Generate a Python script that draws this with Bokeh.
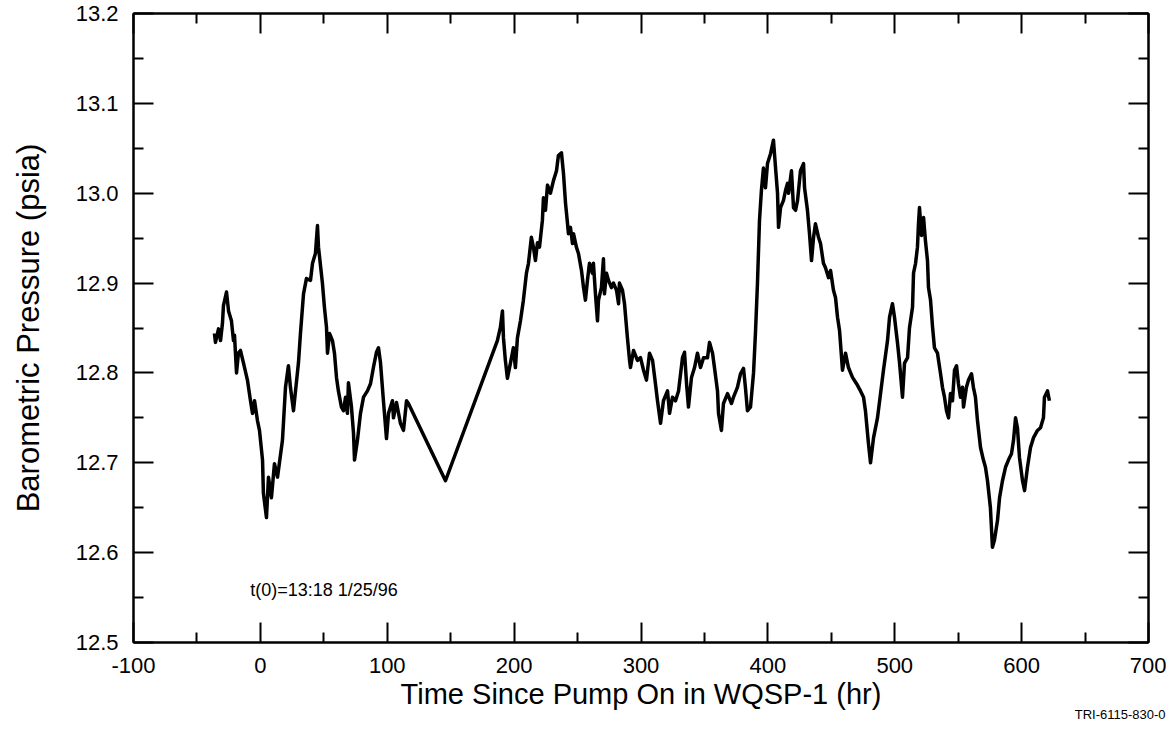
from bokeh.plotting import figure
from bokeh.models import Range1d, LinearAxis, FixedTicker, PrintfTickFormatter, CustomJSTickFormatter, Label, Title
from bokeh.embed import file_html
from bokeh.resources import INLINE

# Barometric pressure record, hours since pump on vs psia
hours = [
    -36.2, -35.4, -33.0, -31.4, -29.9, -29.1, -26.7, -25.1, -22.8, -21.2, -20.4, -18.8, -17.3, -15.7,
    -13.3, -10.2, -7.8, -6.2, -4.6, -2.3, -0.7, 1.7, 2.4, 4.8, 6.4, 8.7, 11.1, 13.5, 17.4, 19.8, 22.1,
    23.7, 26.1, 27.7, 30.0, 31.6, 34.0, 36.3, 39.5, 41.1, 43.4, 45.0, 45.8, 48.9, 50.5, 52.1, 52.9,
    54.5, 56.8, 58.4, 60.0, 61.5, 63.9, 65.5, 67.1, 68.6, 69.4, 71.8, 73.4, 74.2, 76.5, 78.9, 81.3,
    84.4, 86.8, 89.1, 91.5, 93.1, 94.7, 97.0, 99.4, 101.0, 104.1, 104.9, 107.3, 110.4, 112.8, 115.2,
    116.7, 145.9, 186.8, 189.2, 190.8, 191.6, 193.1, 194.7, 197.1, 199.4, 201.0, 202.6, 205.0, 207.3,
    209.7, 211.3, 213.6, 215.2, 216.8, 218.4, 220.0, 222.3, 223.1, 224.7, 226.3, 228.6, 231.0, 233.4,
    234.9, 237.3, 238.9, 240.5, 242.1, 242.8, 244.4, 246.0, 246.8, 249.1, 250.7, 253.1, 254.7, 256.2,
    257.8, 259.4, 261.7, 262.5, 264.1, 265.7, 266.5, 268.8, 270.4, 271.2, 272.8, 274.4, 276.7, 278.3,
    280.7, 282.3, 283.0, 285.4, 287.0, 289.3, 290.9, 291.7, 294.1, 297.2, 299.6, 302.0, 304.3, 306.7,
    309.1, 311.4, 313.0, 315.4, 317.7, 320.9, 322.5, 324.8, 327.2, 329.6, 332.7, 334.3, 335.9, 337.4,
    339.8, 342.2, 344.5, 346.9, 349.3, 352.4, 354.0, 356.4, 357.9, 360.3, 361.1, 363.4, 365.0, 368.2,
    371.3, 372.9, 376.0, 378.4, 380.8, 382.3, 383.9, 386.3, 388.7, 390.2, 391.8, 393.4, 394.9, 396.5,
    398.1, 399.7, 402.1, 404.4, 406.0, 407.6, 408.4, 410.0, 412.3, 413.9, 415.5, 416.3, 418.6, 420.2,
    421.8, 423.4, 425.7, 428.1, 428.9, 431.2, 432.8, 434.4, 436.0, 437.5, 439.9, 441.5, 443.8, 445.4,
    447.8, 449.4, 451.7, 453.3, 454.9, 456.5, 458.8, 461.2, 463.5, 466.7, 469.9, 473.0, 475.4, 476.9,
    479.3, 480.9, 483.3, 486.4, 488.8, 491.1, 494.3, 495.9, 498.2, 499.8, 502.2, 503.8, 506.1, 507.7,
    510.1, 511.6, 514.0, 514.8, 516.4, 517.9, 518.7, 519.5, 521.1, 522.7, 524.2, 525.8, 526.6, 528.2,
    529.8, 531.3, 533.7, 534.5, 536.1, 537.6, 539.2, 540.8, 542.4, 543.9, 545.5, 547.1, 548.7, 550.2,
    551.8, 553.4, 554.2, 556.5, 558.1, 560.5, 562.0, 563.6, 565.2, 567.6, 569.9, 571.5, 573.1, 575.4,
    577.0, 578.6, 581.0, 582.6, 584.9, 587.3, 589.6, 592.0, 593.6, 595.2, 596.7, 598.3, 600.7, 602.3,
    604.6, 607.0, 609.4, 612.5, 614.9, 617.2, 618.0, 620.4, 621.9,
]
psia = [
    12.844, 12.834, 12.849, 12.836, 12.855, 12.875, 12.890, 12.869, 12.858, 12.836, 12.842, 12.800, 12.822, 12.825,
    12.811, 12.792, 12.769, 12.755, 12.769, 12.747, 12.736, 12.703, 12.666, 12.639, 12.684, 12.661, 12.699, 12.684, 12.725, 12.784, 12.808,
    12.784, 12.758, 12.780, 12.811, 12.844, 12.888, 12.905, 12.903, 12.922, 12.933, 12.964, 12.940, 12.900, 12.873, 12.851, 12.822,
    12.844, 12.836, 12.822, 12.795, 12.780, 12.762, 12.758, 12.773, 12.755, 12.789, 12.762, 12.733, 12.703, 12.725, 12.755, 12.773,
    12.780, 12.788, 12.806, 12.823, 12.828, 12.811, 12.769, 12.727, 12.755, 12.769, 12.750, 12.767, 12.744, 12.736, 12.769,
    12.766, 12.680, 12.836, 12.851, 12.869, 12.839, 12.814, 12.794, 12.811, 12.828, 12.806, 12.839, 12.858, 12.881,
    12.911, 12.922, 12.951, 12.940, 12.925, 12.945, 12.940, 12.970, 12.995, 12.981, 13.009, 13.000, 13.014, 13.025,
    13.042, 13.045, 13.022, 12.989, 12.966, 12.955, 12.962, 12.944, 12.955, 12.940, 12.933, 12.914, 12.895, 12.881,
    12.903, 12.922, 12.911, 12.922, 12.888, 12.858, 12.881, 12.895, 12.927, 12.888, 12.911, 12.903, 12.895, 12.900,
    12.892, 12.877, 12.900, 12.892, 12.877, 12.839, 12.815, 12.806, 12.825, 12.814, 12.817, 12.803, 12.792, 12.822,
    12.814, 12.788, 12.769, 12.744, 12.769, 12.780, 12.755, 12.773, 12.769, 12.780, 12.817, 12.823, 12.788, 12.762,
    12.795, 12.806, 12.822, 12.806, 12.817, 12.817, 12.834, 12.822, 12.806, 12.780, 12.755, 12.736, 12.766, 12.777,
    12.766, 12.773, 12.784, 12.799, 12.805, 12.784, 12.758, 12.762, 12.800, 12.844, 12.900, 12.970, 13.003, 13.028,
    13.006, 13.033, 13.044, 13.059, 13.029, 13.000, 12.962, 12.984, 12.992, 13.003, 13.011, 13.000, 13.025, 12.984,
    12.981, 12.992, 13.025, 13.033, 13.006, 12.981, 12.955, 12.925, 12.951, 12.966, 12.951, 12.944, 12.922, 12.917,
    12.906, 12.914, 12.892, 12.884, 12.862, 12.847, 12.803, 12.822, 12.806, 12.795, 12.788, 12.780, 12.773, 12.758,
    12.721, 12.700, 12.728, 12.750, 12.777, 12.803, 12.836, 12.862, 12.877, 12.862, 12.833, 12.811, 12.773, 12.811,
    12.817, 12.850, 12.873, 12.911, 12.922, 12.940, 12.966, 12.984, 12.953, 12.973, 12.947, 12.925, 12.895, 12.881,
    12.851, 12.828, 12.822, 12.814, 12.799, 12.784, 12.773, 12.758, 12.750, 12.777, 12.769, 12.803, 12.808, 12.788,
    12.773, 12.784, 12.762, 12.784, 12.792, 12.799, 12.784, 12.773, 12.747, 12.717, 12.703, 12.695, 12.680, 12.650,
    12.606, 12.614, 12.636, 12.661, 12.680, 12.695, 12.703, 12.710, 12.725, 12.750, 12.739, 12.706, 12.680, 12.669,
    12.695, 12.717, 12.728, 12.736, 12.739, 12.750, 12.773, 12.780, 12.769,
]

x_ticks = [-100, 0, 100, 200, 300, 400, 500, 600, 700]
x_minor = [-50, 50, 150, 250, 350, 450, 550, 650]
y_ticks = [12.5, 12.6, 12.7, 12.8, 12.9, 13.0, 13.1, 13.2]
y_minor = [12.55, 12.65, 12.75, 12.85, 12.95, 13.05, 13.15]

x_title = "Time Since Pump On in WQSP-1 (hr)"
y_title = "Barometric Pressure (psia)"
note_text = "t(0)=13:18 1/25/96"
figure_id = "TRI-6115-830-0"

FONT = "Liberation Sans"

p = figure(width=1166, height=730, output_backend="svg", toolbar_location=None,
           x_range=Range1d(-100, 700), y_range=Range1d(12.5, 13.2),
           min_border_left=133, min_border_right=18, min_border_top=13, min_border_bottom=88,
           x_axis_label=x_title, y_axis_label=y_title)
p.background_fill_color = "white"
p.border_fill_color = "white"
p.outline_line_color = "black"
p.outline_line_width = 2
p.xgrid.visible = False
p.ygrid.visible = False

xt = FixedTicker(ticks=x_ticks, minor_ticks=x_minor)
yt = FixedTicker(ticks=y_ticks, minor_ticks=y_minor)


def style(ax, ticker):
    ax.ticker = ticker
    ax.axis_line_color = "black"
    ax.axis_line_width = 2
    ax.major_tick_line_color = "black"
    ax.major_tick_line_width = 2
    ax.minor_tick_line_color = "black"
    ax.minor_tick_line_width = 2
    ax.major_tick_in = 20
    ax.major_tick_out = 0
    ax.minor_tick_in = 10
    ax.minor_tick_out = 0
    ax.major_label_text_font = FONT
    ax.major_label_text_color = "black"
    ax.major_label_text_font_size = "22px"
    ax.axis_label_text_font = FONT
    ax.axis_label_text_font_style = "normal"
    ax.axis_label_text_color = "black"


xa = p.xaxis[0]
ya = p.yaxis[0]
style(xa, xt)
style(ya, yt)
xa.formatter = PrintfTickFormatter(format="%d")
ya.formatter = PrintfTickFormatter(format="%.1f")
xa.major_label_standoff = 15
ya.major_label_standoff = 15
xa.axis_label_text_font_size = "29px"
xa.axis_label_standoff = 2
ya.axis_label_text_font_size = "31px"
ya.axis_label_standoff = 27

blank = CustomJSTickFormatter(code="return ''")
top = LinearAxis(formatter=blank, major_label_standoff=0)
right = LinearAxis(formatter=blank, major_label_standoff=0)
style(top, xt)
style(right, yt)
p.add_layout(top, "above")
p.add_layout(right, "right")

p.line(hours, psia, line_color="black", line_width=3.5, line_join="round")

p.add_layout(Label(x=-8, y=12.558, text=note_text, text_font=FONT, text_font_size="18px",
                   text_color="black", text_baseline="middle", text_align="left"))

p.add_layout(Title(text=figure_id, align="right", text_font=FONT, text_font_size="13px",
                   text_font_style="normal", text_color="black", standoff=-15, offset=-17), "below")

open("out.html", "w").write(file_html(p, INLINE))
